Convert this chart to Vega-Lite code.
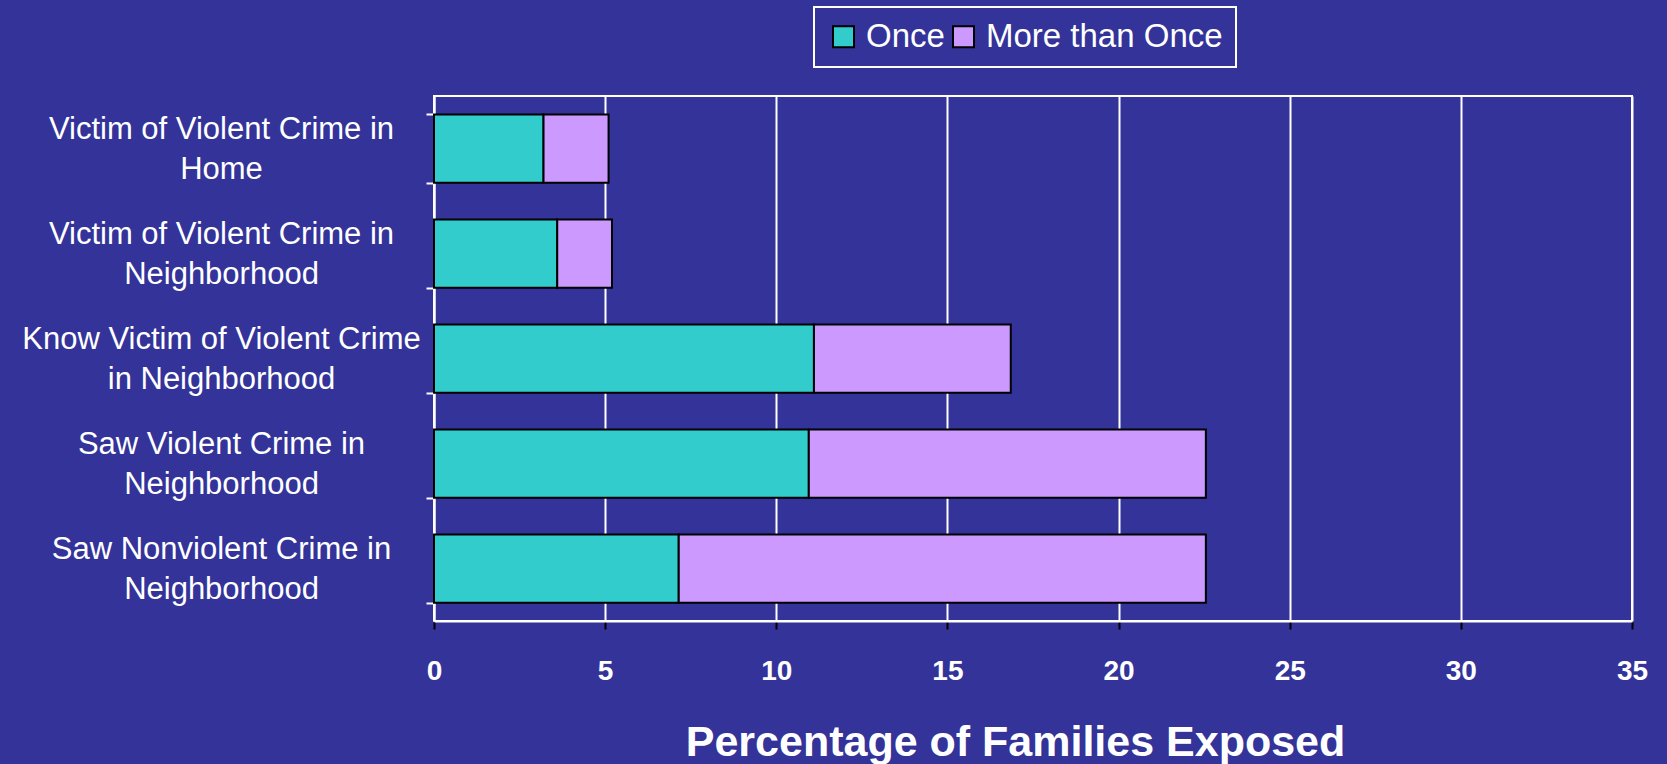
{
  "$schema": "https://vega.github.io/schema/vega-lite/v6.json",
  "autosize": {"type": "none"},
  "width": 1198,
  "height": 525,
  "padding": {"left": 434, "top": 96, "right": 35, "bottom": 143},
  "background": "#333399",
  "config": {
    "font": "Arial",
    "axis": {"labelFont": "Arial", "titleFont": "Arial"},
    "view": {"stroke": "#FFFFFF", "strokeWidth": 2},
    "legend": {"strokeWidth": 2, "labelFont": "Arial"}
  },
  "data": {"values": [
    {"cat": "Victim of Violent Crime in|Home", "type": "Once", "v": 3.2},
    {"cat": "Victim of Violent Crime in|Home", "type": "More than Once", "v": 1.9},
    {"cat": "Victim of Violent Crime in|Neighborhood", "type": "Once", "v": 3.6},
    {"cat": "Victim of Violent Crime in|Neighborhood", "type": "More than Once", "v": 1.6},
    {"cat": "Know Victim of Violent Crime|in Neighborhood", "type": "Once", "v": 11.1},
    {"cat": "Know Victim of Violent Crime|in Neighborhood", "type": "More than Once", "v": 5.75},
    {"cat": "Saw Violent Crime in|Neighborhood", "type": "Once", "v": 10.95},
    {"cat": "Saw Violent Crime in|Neighborhood", "type": "More than Once", "v": 11.6},
    {"cat": "Saw Nonviolent Crime in|Neighborhood", "type": "Once", "v": 7.15},
    {"cat": "Saw Nonviolent Crime in|Neighborhood", "type": "More than Once", "v": 15.4}
  ]},
  "mark": {"type": "bar", "stroke": "#000000", "strokeWidth": 2},
  "encoding": {
    "y": {
      "field": "cat", "type": "nominal", "sort": null,
      "scale": {"paddingInner": 0.35, "paddingOuter": 0.175},
      "axis": {
        "title": null,
        "labelExpr": "split(datum.label, '|')",
        "labelAlign": "center",
        "labelBaseline": "middle",
        "labelPadding": 205,
        "labelOffset": -19,
        "labelFontSize": 31,
        "labelLineHeight": 40,
        "labelColor": "#FFFFFF",
        "labelLimit": 0,
        "tickColor": "#FFFFFF",
        "tickSize": 8,
        "tickWidth": 2,
        "tickBand": "extent",
        "domainColor": "#FFFFFF",
        "domainWidth": 2,
        "grid": false
      }
    },
    "x": {
      "field": "v", "type": "quantitative", "stack": "zero",
      "scale": {"domain": [0, 35], "nice": false},
      "axis": {
        "values": [0, 5, 10, 15, 20, 25, 30, 35],
        "title": "Percentage of Families Exposed",
        "titleFontSize": 43,
        "titleFontWeight": "bold",
        "titleColor": "#FFFFFF",
        "titleBaseline": "alphabetic",
        "titleX": 581,
        "titleY": 134,
        "labelFontSize": 28,
        "labelFontWeight": "bold",
        "labelColor": "#FFFFFF",
        "labelBaseline": "alphabetic",
        "labelPadding": 50,
        "labelFlush": false,
        "tickColor": "#000000",
        "tickSize": 8,
        "tickWidth": 2,
        "domainColor": "#FFFFFF",
        "domainWidth": 2,
        "grid": true,
        "gridColor": "#FFFFFF",
        "gridWidth": 2,
        "gridOpacity": 1
      }
    },
    "color": {
      "field": "type", "type": "nominal",
      "scale": {"domain": ["Once", "More than Once"], "range": ["#33CCCC", "#CC99FF"]},
      "legend": {
        "title": null,
        "orient": "none",
        "legendX": 380,
        "legendY": -89,
        "direction": "horizontal",
        "symbolType": "square",
        "symbolSize": 441,
        "symbolStrokeColor": "#000000",
        "symbolStrokeWidth": 2,
        "symbolOpacity": 1,
        "labelFontSize": 33,
        "labelColor": "#FFFFFF",
        "labelLimit": 0,
        "labelOffset": 6,
        "columnPadding": 2,
        "padding": 13,
        "strokeColor": "#FFFFFF"
      }
    },
    "order": {"field": "type", "sort": "descending"}
  }
}
